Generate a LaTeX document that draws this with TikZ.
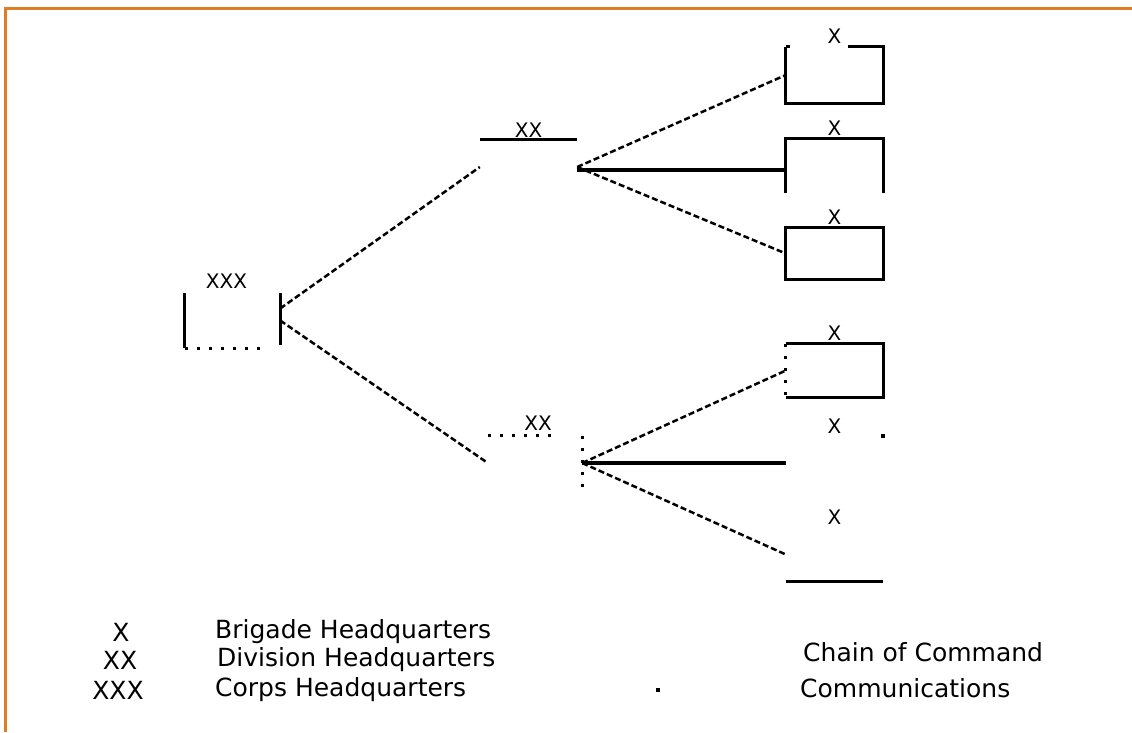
\documentclass[tikz,border=0pt]{standalone}
\usepackage{fontspec}
\setmainfont{DejaVu Sans}
\definecolor{frameorange}{RGB}{222,126,36}
\begin{document}
\begin{tikzpicture}[x=1pt,y=-1pt,
  hq/.style={draw=none, inner sep=0pt, minimum width=97pt},
  side/.style={line width=3pt},
  dotside/.style={line width=3pt, dash pattern=on 3pt off 9pt},
  comms/.style={line width=2.5pt, dash pattern=on 6pt off 3pt},
  command/.style={line width=3.5pt},
  echelon/.style={font=\fontsize{20}{20}\selectfont, inner sep=0pt, anchor=south},
  legsym/.style={font=\fontsize{25}{25}\selectfont, inner sep=0pt},
  legtext/.style={font=\fontsize{25}{25}\selectfont, inner sep=0pt, anchor=west}]
\useasboundingbox (0,0) rectangle (1132,732);

% frame
\draw[frameorange, line width=3pt] (5.5,732) -- (5.5,8.5) -- (1132,8.5);

% headquarters
\node[hq, minimum width=95pt, minimum height=55pt] (corps) at (232.5,320.5) {};
\node[hq, minimum height=54pt] (divA) at (528.5,167) {};
\node[hq, minimum width=94pt, minimum height=54pt] (divB) at (535,463) {};
\node[hq, minimum height=56pt] (brA) at (834.5,75) {};
\node[hq, minimum height=54pt] (brB) at (834.5,166) {};
\node[hq, minimum height=51pt] (brC) at (834.5,253.5) {};
\node[hq, minimum height=53pt] (brD) at (834.5,370.5) {};
\node[hq, minimum height=53pt] (brE) at (834.5,463) {};
\node[hq, minimum height=53pt] (brF) at (834.5,554.5) {};

% corps box
\draw[side] (corps.north west) -- (corps.south west);
\draw[dotside] (corps.south west) -- ([xshift=-12pt]corps.south east);
\draw[side] (corps.north east) -- ([yshift=3pt]corps.south east);

% division boxes
\draw[side] (divA.north west) -- (divA.north east);
\draw[dotside] (divB.north west) -- ([xshift=-30pt]divB.north east);
\draw[dotside] (divB.north east) -- (divB.south east);

% brigade boxes
\draw[side] (brA.north west) -- (brA.south west) -- (brA.south east) -- (brA.north east)
  -- ([xshift=-35pt]brA.north east);
\draw[side] (brA.north west) -- ([xshift=4pt]brA.north west);
\draw[side] (brB.south west) -- (brB.north west) -- (brB.north east) -- (brB.south east);
\draw[side] (brC.north west) rectangle (brC.south east);
\draw[side] (brD.north west) -- (brD.north east) -- (brD.south east) -- (brD.south west);
\draw[dotside] (brD.north west) -- (brD.south west);
\fill ([xshift=-2pt,yshift=2pt]brE.north east) rectangle ([xshift=2pt,yshift=-2pt]brE.north east);
\draw[side] (brF.south west) -- (brF.south east);

% echelon marks
\node[echelon] (corpsMark) at ([xshift=-6pt,yshift=4pt]corps.north) {XXX};
\node[echelon] (divAMark) at ([yshift=2pt]divA.north) {XX};
\node[echelon] (divBMark) at ([xshift=3pt,yshift=5pt]divB.north) {XX};
\foreach \b in {brA,brB,brC,brD,brE,brF}
  \node[echelon] (\b Mark) at ([yshift=3pt]\b.north) {X};

% corps to divisions
\draw[comms] ([yshift=12pt]corps.east) -- (divA.west);
\draw[comms] (corps.east) -- (divB.west);

% divisions to brigades
\draw[comms] (divA.east) -- (brA.west);
\draw[command] ([yshift=-3pt]divA.east) -- ([yshift=-4pt]brB.west);
\draw[comms] (divA.east) -- (brC.west);
\draw[comms] (divB.east) -- (brD.west);
\draw[command] (divB.east) -- (brE.west);
\draw[comms] (divB.east) -- (brF.west);

% legend
\node[legsym] (legX) at (121,632) {X};
\node[legsym] (legXX) at (120,660) {XX};
\node[legsym] (legXXX) at (118,690) {XXX};
\node[legtext] (legBde) at (215,632) {Brigade Headquarters};
\node[legtext] (legDiv) at (217,660) {Division Headquarters};
\node[legtext] (legCps) at (215,690) {Corps Headquarters};
\fill (656,688) rectangle (660,692);
\node[legtext] (legCmd) at (803,652) {Chain of Command};
\node[legtext] (legCom) at (800,688) {Communications};
\end{tikzpicture}
\end{document}
